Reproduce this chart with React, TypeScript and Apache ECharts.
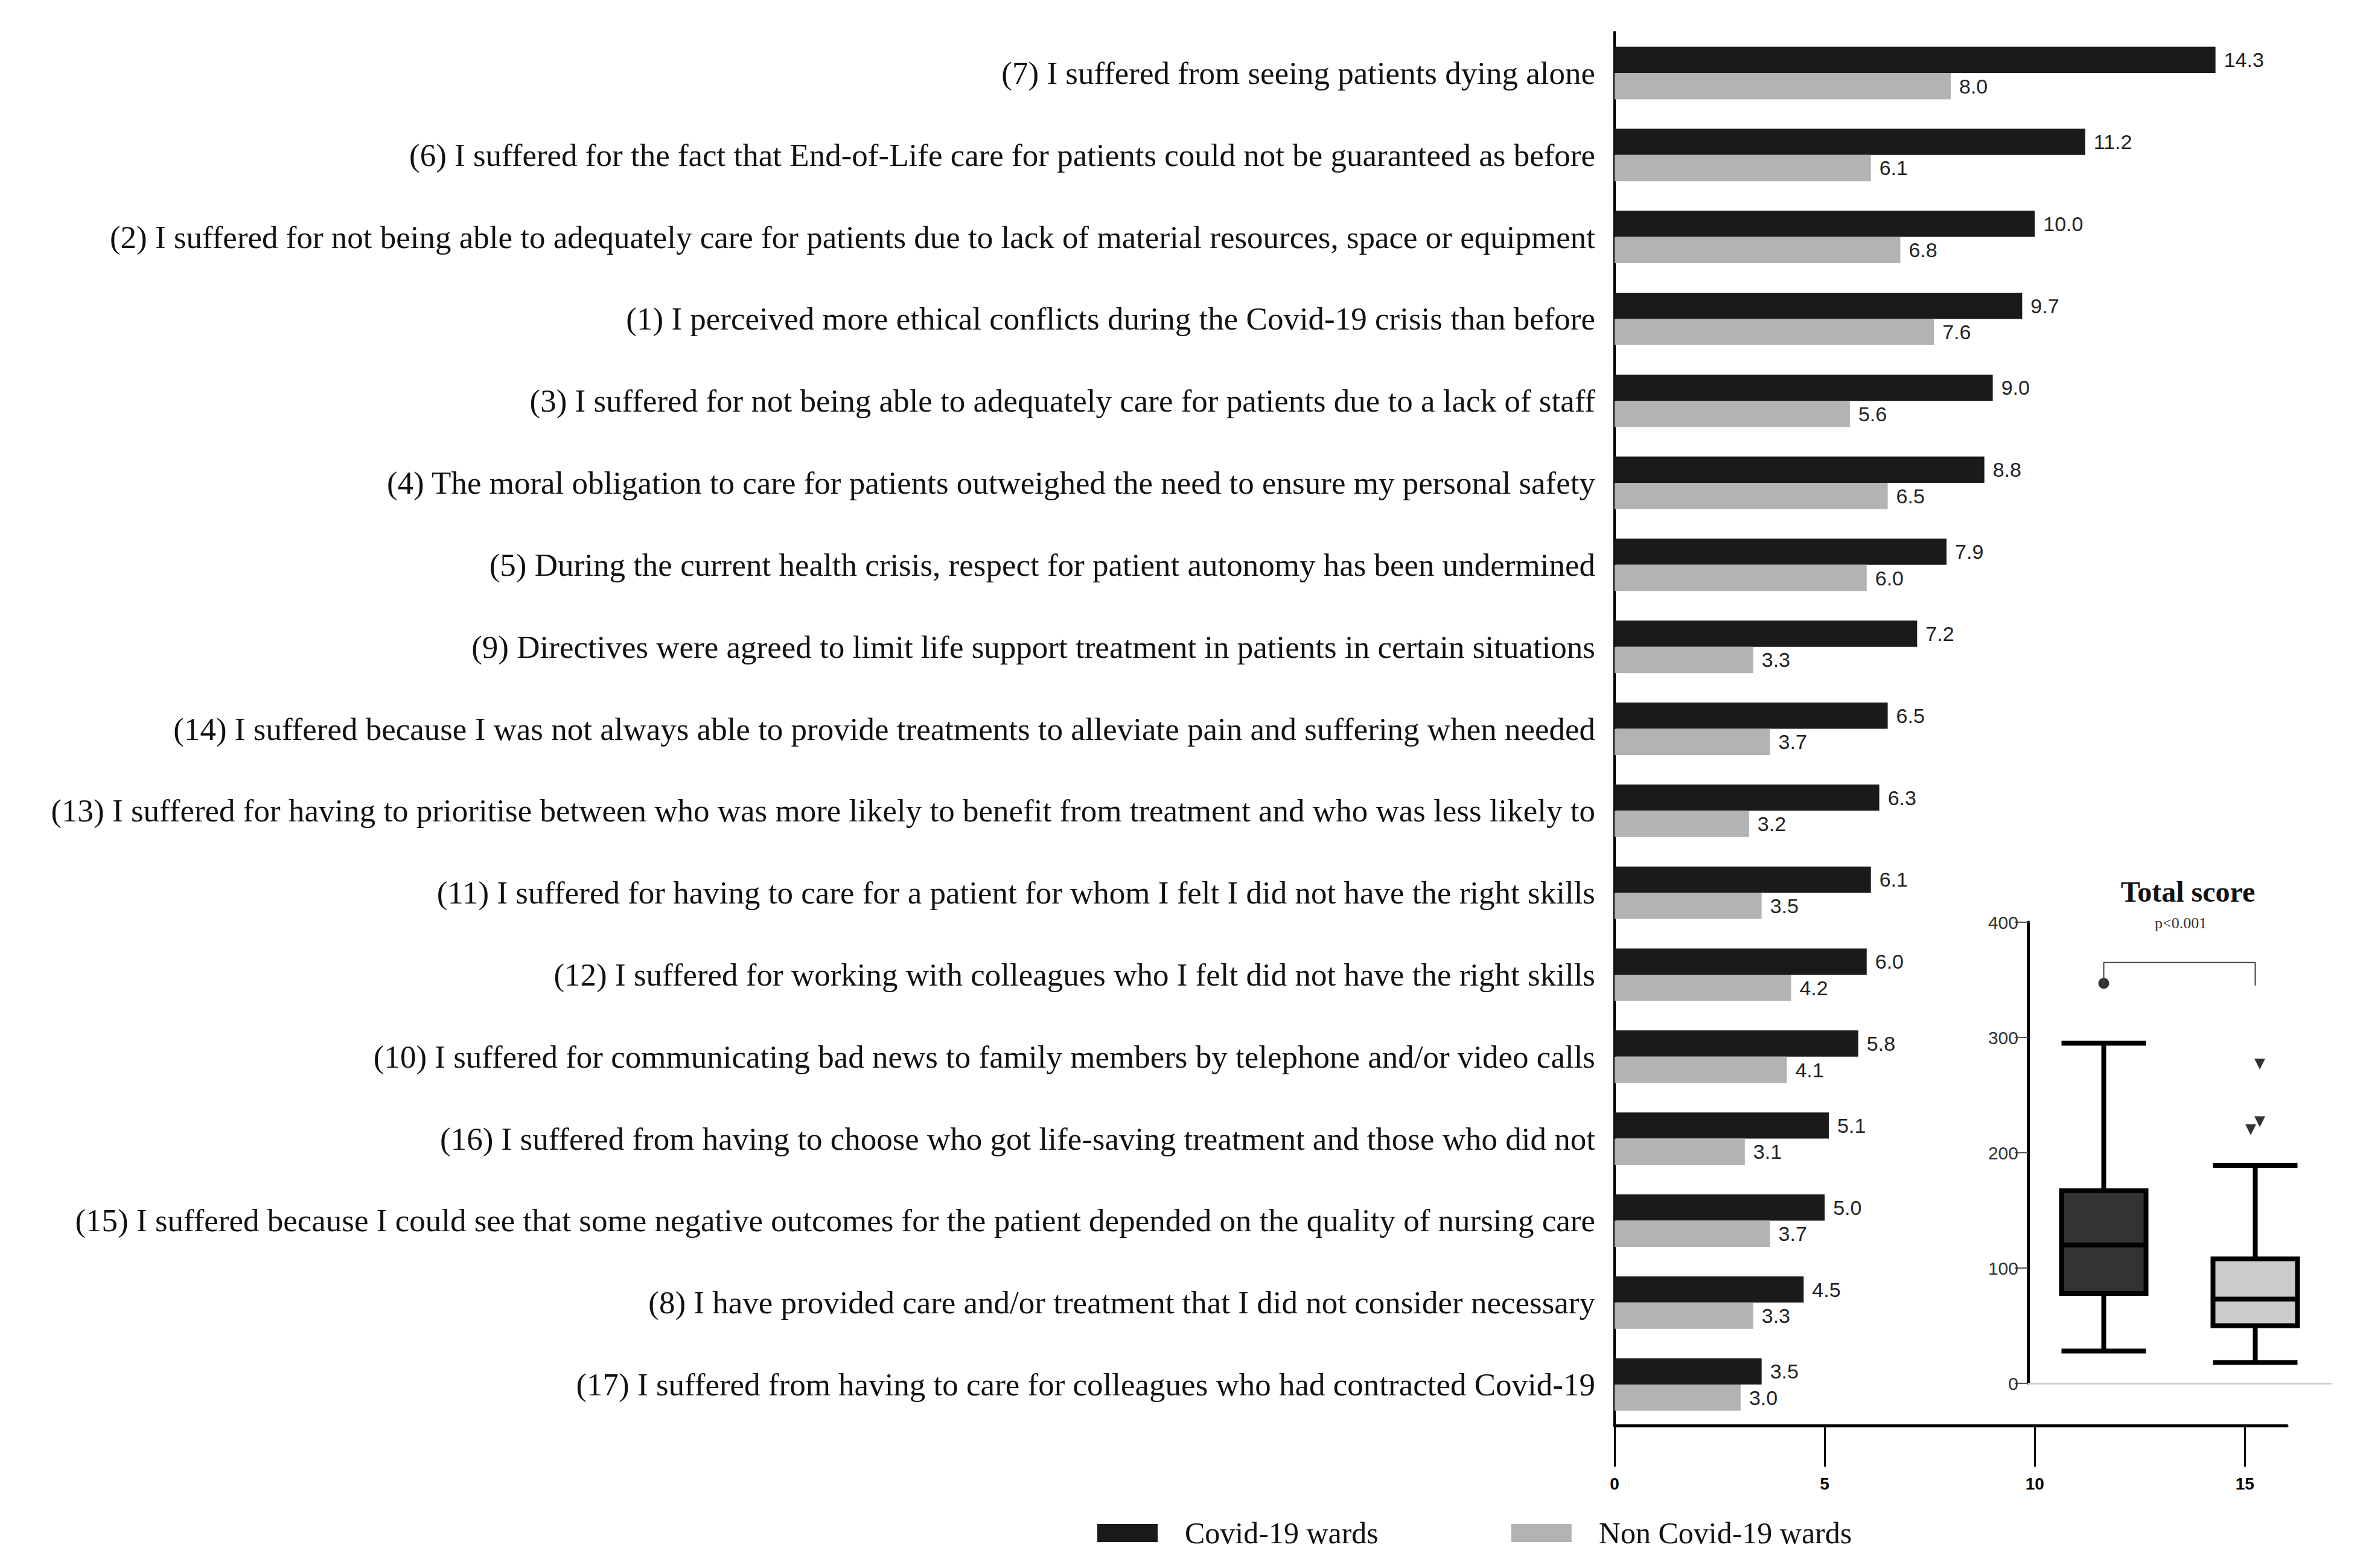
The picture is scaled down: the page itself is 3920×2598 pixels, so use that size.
import React, { useEffect, useRef } from 'react';
import * as echarts from 'echarts';

const items = [
  '(7) I suffered from seeing patients dying alone',
  '(6) I suffered for the fact that End-of-Life care for patients could not be guaranteed as before',
  '(2) I suffered for not being able to adequately care for patients due to lack of material resources, space or equipment',
  '(1) I perceived more ethical conflicts during the Covid-19 crisis than before',
  '(3) I suffered for not being able to adequately care for patients due to a lack of staff',
  '(4) The moral obligation to care for patients outweighed the need to ensure my personal safety',
  '(5) During the current health crisis, respect for patient autonomy has been undermined',
  '(9) Directives were agreed to limit life support treatment in patients in certain situations',
  '(14) I suffered because I was not always able to provide treatments to alleviate pain and suffering when needed',
  '(13) I suffered for having to prioritise between who was more likely to benefit from treatment and who was less likely to',
  '(11) I suffered for having to care for a patient for whom I felt I did not have the right skills',
  '(12) I suffered for working with colleagues who I felt did not have the right skills',
  '(10) I suffered for communicating bad news to family members by telephone and/or video calls',
  '(16) I suffered from having to choose who got life-saving treatment and those who did not',
  '(15) I suffered because I could see that some negative outcomes for the patient depended on the quality of nursing care',
  '(8) I have provided care and/or treatment that I did not consider necessary',
  '(17) I suffered from having to care for colleagues who had contracted Covid-19',
];
const covidWards = [14.3, 11.2, 10.0, 9.7, 9.0, 8.8, 7.9, 7.2, 6.5, 6.3, 6.1, 6.0, 5.8, 5.1, 5.0, 4.5, 3.5];
const nonCovidWards = [8.0, 6.1, 6.8, 7.6, 5.6, 6.5, 6.0, 3.3, 3.7, 3.2, 3.5, 4.2, 4.1, 3.1, 3.7, 3.3, 3.0];
const xTicks = [0, 5, 10, 15];

// total score boxplots: [min, Q1, median, Q3, max]
const boxGroups = ['Covid-19 wards', 'Non Covid-19 wards'];
const boxStats = [
  [28, 78, 120, 167, 295],
  [18, 50, 73, 108, 189],
];
const circleOutliers = [[0.25, 347]];
const triangleOutliers = [[0.765, 277], [0.735, 220], [0.765, 227]];
const bracket = [[0.25, 345], [0.25, 365], [0.75, 365], [0.75, 345]];

const serif = '"Liberation Serif", "DejaVu Serif", serif';
const sans = '"Liberation Sans", Arial, sans-serif';

const App = () => {
  const chartRef = useRef<HTMLDivElement>(null);

  useEffect(() => {
    if (!chartRef.current) return;
    const chart = echarts.init(chartRef.current, null, { renderer: 'svg' });

    const valueLabel = {
      show: true,
      position: 'right' as const,
      distance: 14,
      fontFamily: sans,
      fontSize: 34,
      color: '#222',
      formatter: (p: any) => p.value.toFixed(1),
    };

    chart.setOption({
      animation: false,
      title: {
        text: 'Total score',
        left: 3612,
        top: 1440,
        textAlign: 'center',
        textStyle: { fontFamily: serif, fontSize: 48, fontWeight: 'bold', color: '#111' },
      },
      legend: {
        data: ['Covid-19 wards', 'Non Covid-19 wards'],
        left: 1805,
        top: 2502,
        icon: 'rect',
        itemWidth: 100,
        itemHeight: 30,
        itemGap: 220,
        textStyle: { fontFamily: serif, fontSize: 50, color: '#111', padding: [0, 0, 0, 40] },
      },
      graphic: [
        {
          type: 'text',
          left: 3562,
          top: 1508,
          style: { text: 'p<0.001', font: `26px ${serif}`, fill: '#333' },
        },
      ],
      grid: [
        { left: 2667, right: 123, top: 45, bottom: 228 },
        { left: 3352, right: 50, top: 1520, bottom: 298 },
      ],
      xAxis: [
        {
          type: 'value',
          gridIndex: 0,
          min: 0,
          max: 16,
          splitLine: { show: false },
          axisLine: { show: true, lineStyle: { color: '#000', width: 5 } },
          axisTick: { show: true, length: 68, customValues: xTicks, lineStyle: { color: '#000', width: 3 } },
          axisLabel: {
            customValues: xTicks,
            fontFamily: sans,
            fontSize: 28,
            fontWeight: 'bold',
            color: '#000',
            margin: 82,
          },
        },
        {
          type: 'category',
          gridIndex: 1,
          data: boxGroups,
          axisLine: { lineStyle: { color: '#ccc', width: 3 } },
          axisTick: { show: false },
          axisLabel: { show: false },
        },
        {
          type: 'value',
          gridIndex: 1,
          min: 0,
          max: 1,
          show: false,
        },
      ],
      yAxis: [
        {
          type: 'category',
          gridIndex: 0,
          data: items,
          inverse: true,
          axisLine: { show: true, lineStyle: { color: '#000', width: 4 } },
          axisTick: { show: false },
          axisLabel: { fontFamily: serif, fontSize: 53, color: '#111', margin: 32 },
        },
        {
          type: 'value',
          gridIndex: 1,
          min: 0,
          max: 400,
          interval: 100,
          splitLine: { show: false },
          axisLine: { show: true, lineStyle: { color: '#000', width: 5 } },
          axisTick: { show: true, length: 22, lineStyle: { color: '#555', width: 2 } },
          axisLabel: { fontFamily: sans, fontSize: 30, color: '#333', margin: 16 },
        },
      ],
      series: [
        {
          name: 'Covid-19 wards',
          type: 'bar',
          xAxisIndex: 0,
          yAxisIndex: 0,
          data: covidWards,
          barGap: '0%',
          barCategoryGap: '36%',
          itemStyle: { color: '#1a1a1a' },
          label: valueLabel,
        },
        {
          name: 'Non Covid-19 wards',
          type: 'bar',
          xAxisIndex: 0,
          yAxisIndex: 0,
          data: nonCovidWards,
          itemStyle: { color: '#b3b3b3' },
          label: valueLabel,
        },
        {
          type: 'boxplot',
          xAxisIndex: 1,
          yAxisIndex: 1,
          boxWidth: [140, 140],
          data: [
            { value: boxStats[0], itemStyle: { color: '#333', borderColor: '#000', borderWidth: 8 } },
            { value: boxStats[1], itemStyle: { color: '#ccc', borderColor: '#000', borderWidth: 8 } },
          ],
        },
        {
          type: 'scatter',
          xAxisIndex: 2,
          yAxisIndex: 1,
          data: circleOutliers,
          symbol: 'circle',
          symbolSize: 18,
          itemStyle: { color: '#000' },
        },
        {
          type: 'scatter',
          xAxisIndex: 2,
          yAxisIndex: 1,
          data: triangleOutliers,
          symbol: 'triangle',
          symbolRotate: 180,
          symbolSize: 18,
          itemStyle: { color: '#000' },
        },
        {
          type: 'line',
          xAxisIndex: 2,
          yAxisIndex: 1,
          data: bracket,
          symbol: 'none',
          lineStyle: { color: '#444', width: 2 },
        },
      ],
    });

    return () => {
      chart.dispose();
    };
  }, []);

  return <div ref={chartRef} style={{ width: '3904px', height: '2582px' }}></div>;
};

export default App;
